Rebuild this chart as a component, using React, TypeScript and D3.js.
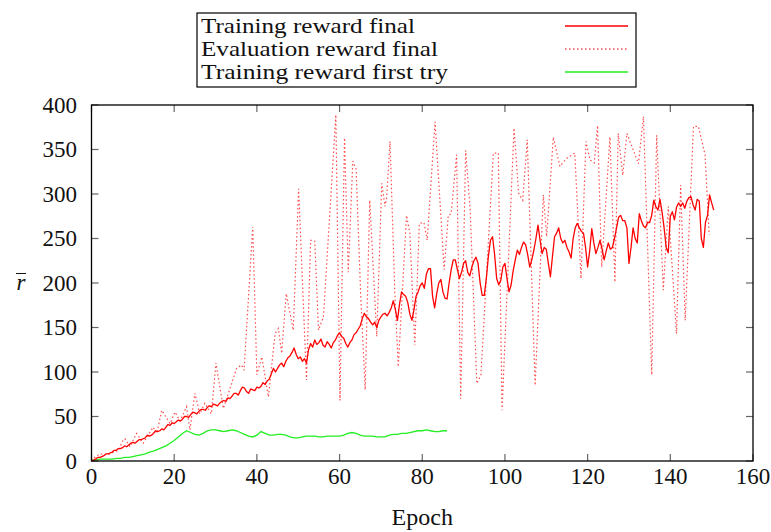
import React from "react";
import * as d3 from "d3";

// ---- Data ----
const TRAIN_FINAL_STEP = 0.5;
const trainFinal: number[] = [
  0, 1, 2, 4, 4, 5, 6, 8, 8, 9, 10, 12, 12, 14, 14, 15, 17, 16, 18, 20,
  21, 20, 22, 24, 24, 25, 26, 29, 28, 29, 31, 34, 33, 34, 36, 35, 38, 41, 40, 43,
  42, 44, 46, 45, 47, 50, 50, 49, 52, 55, 54, 53, 56, 58, 58, 57, 60, 62, 61, 64,
  63, 62, 65, 67, 68, 67, 71, 70, 73, 76, 76, 74, 79, 83, 82, 78, 76, 81, 80, 79,
  83, 82, 84, 88, 86, 90, 92, 98, 104, 100, 104, 108, 110, 106, 112, 116, 118, 122, 127, 120,
  115, 117, 112, 115, 110, 125, 132, 128, 136, 131, 133, 137, 130, 128, 134, 131, 127, 133, 136, 141,
  144, 140, 138, 132, 128, 133, 136, 142, 144, 148, 152, 160, 166, 162, 160, 156, 153, 156, 150, 158,
  162, 165, 166, 163, 167, 172, 180, 170, 158, 176, 190, 187, 185, 178, 165, 158, 170, 185, 190, 197,
  200, 194, 210, 216, 216, 185, 172, 188, 200, 204, 190, 183, 182, 200, 215, 226, 226, 215, 205, 212,
  222, 225, 212, 208, 218, 225, 229, 222, 200, 186, 186, 205, 230, 248, 252, 232, 205, 198, 203, 218,
  222, 205, 190, 198, 214, 226, 237, 232, 240, 246, 243, 232, 218, 226, 237, 250, 265, 248, 233, 240,
  238, 222, 207, 230, 252, 256, 262, 250, 245, 248, 240, 235, 228, 250, 262, 267, 262, 258, 256, 240,
  218, 236, 261, 245, 233, 240, 248, 238, 226, 236, 245, 238, 240, 250, 262, 274, 276, 270, 270, 262,
  222, 240, 262, 250, 245, 278, 270, 264, 262, 268, 268, 276, 293, 286, 282, 294, 280, 262, 240, 234,
  275, 280, 271, 285, 290, 286, 290, 284, 292, 296, 297, 288, 282, 294, 292, 250, 240, 268, 276, 299,
  290, 282,
];

const evalEpochs: number[] = [
  0, 0.5, 2, 4, 5.3, 6.5, 7.7, 8.1, 9.3, 10.9, 12.5, 14.9, 15.8, 17, 19, 20.2, 21.4, 23, 23.8, 25,
  26.2, 27.4, 29, 30.1, 31.9, 35.1, 36.3, 36.9, 39, 40, 41.2, 42.8, 44.4, 45.2, 46, 47.1, 48.8, 50.1, 52, 53,
  54, 54.9, 56.1, 59.1, 60.1, 61.2, 62.1, 63.2, 64, 65.1, 66.2, 67.3, 69, 70.2, 71, 71.4, 72.2, 73.4, 74.2, 76.2,
  77, 78.2, 79.3, 80.4, 81.2, 83.1, 85.3, 86.3, 87, 88.3, 89.3, 90.5, 91.6, 93.2, 94.2, 97.2, 98.4, 99.3, 102.2, 103.3,
  104.3, 105.4, 107.3, 109.3, 110.1, 111.7, 113.3, 114.9, 116.9, 118.4, 119.6, 120.6, 121.6, 122.4, 123.4, 125.4, 126.6, 127.4, 128.5, 129.5,
  132.3, 133.5, 135.5, 136.7, 138.3, 139.5, 141.5, 142.5, 143.6, 145.6, 146.8, 148.4, 149.4,
];
const evalValues: number[] = [
  0, 3, 8, 7, 10, 12, 24, 25, 16, 31, 20, 38, 31, 57, 42, 55, 45, 61, 35, 76,
  53, 65, 53, 110, 59, 104, 108, 102, 263, 97, 117, 72, 143, 149, 121, 188, 147, 306, 91, 248,
  247, 147, 162, 389, 68, 363, 212, 337, 328, 188, 80, 293, 140, 312, 286, 296, 359, 185, 106, 276,
  256, 130, 267, 268, 248, 381, 215, 276, 278, 344, 70, 349, 282, 87, 97, 346, 346, 57, 374, 301,
  293, 361, 85, 299, 252, 364, 331, 340, 346, 205, 359, 338, 335, 377, 218, 364, 201, 368, 321, 368,
  334, 387, 97, 366, 192, 286, 143, 310, 158, 376, 376, 344, 254,
];

const firstTry: number[] = [
  1, 1, 2, 2, 2, 2, 3, 3, 4, 4, 5, 6, 7, 8, 10, 11, 13, 15, 17, 20,
  23, 27, 31, 34, 32, 30, 29, 31, 34, 35, 35, 34, 33, 34, 35, 34, 32, 30, 28, 27,
  29, 33, 31, 29, 29, 30, 30, 29, 27, 26, 26, 27, 28, 28, 28, 27, 27, 28, 28, 28,
  28, 29, 31, 32, 31, 29, 28, 28, 28, 27, 27, 27, 29, 30, 30, 31, 31, 32, 33, 34,
  34, 35, 34, 33, 33, 34, 34,
];

const xTicks = [0, 20, 40, 60, 80, 100, 120, 140, 160];
const yTicks = [0, 50, 100, 150, 200, 250, 300, 350, 400];
const legendLabels = ["Training reward final", "Evaluation reward final", "Training reward first try"];
const xLabel = "Epoch";

const W = 771;
const H = 532;
const M = { left: 91.5, right: 753, top: 105, bottom: 461 };
const FONT = "'Liberation Serif', 'Times New Roman', serif";

export default function App() {
  const x = d3.scaleLinear().domain([0, 160]).range([M.left, M.right]);
  const y = d3.scaleLinear().domain([0, 400]).range([M.bottom, M.top]);

  const line = d3
    .line<[number, number]>()
    .x((d) => x(d[0]))
    .y((d) => y(d[1]));

  const trainPts: [number, number][] = trainFinal.map((v, i) => [i * TRAIN_FINAL_STEP, v]);
  const evalPts: [number, number][] = evalValues.map((v, i) => [evalEpochs[i], v]);
  const firstPts: [number, number][] = firstTry.map((v, i) => [i, v]);

  const red = "#ff0000";
  const green = "#22ee22";
  const tickLen = 7;
  const tickColor = "#666";

  const legend = { x0: 197, y0: 13, x1: 636, y1: 87 };
  const rows = [26, 49, 72];
  const legendWidths = [214, 237, 247];

  return (
    <svg
      width={W}
      height={H}
      style={{ position: "absolute", left: 0, top: 0, background: "#fff" }}
      fontFamily={FONT}
    >
      <rect x={0} y={0} width={W} height={H} fill="#fff" />
      {/* ticks */}
      {xTicks.map((t) => (
        <g key={"xt" + t}>
          <line x1={x(t)} x2={x(t)} y1={M.bottom} y2={M.bottom - tickLen} stroke={tickColor} strokeWidth={1.2} />
          <line x1={x(t)} x2={x(t)} y1={M.top} y2={M.top + tickLen} stroke={tickColor} strokeWidth={1.2} />
          <text x={x(t)} y={M.bottom + 23} textAnchor="middle" fontSize={23} fill="#111">
            {t}
          </text>
        </g>
      ))}
      {yTicks.map((t) => (
        <g key={"yt" + t}>
          <line x1={M.left} x2={M.left + tickLen} y1={y(t)} y2={y(t)} stroke={tickColor} strokeWidth={1.2} />
          <line x1={M.right} x2={M.right - tickLen} y1={y(t)} y2={y(t)} stroke={tickColor} strokeWidth={1.2} />
          <text x={77} y={y(t) + 7.5} textAnchor="end" fontSize={23} fill="#111">
            {t}
          </text>
        </g>
      ))}

      {/* series */}
      <path d={line(firstPts) || ""} fill="none" stroke={green} strokeWidth={1.3} />
      <path
        d={line(evalPts) || ""}
        fill="none"
        stroke={red}
        strokeOpacity={0.7}
        strokeWidth={1.2}
        strokeDasharray="1.5,2.5"
      />
      <path d={line(trainPts) || ""} fill="none" stroke={red} strokeWidth={1.3} strokeLinejoin="round" />

      {/* frame */}
      <rect
        x={M.left}
        y={M.top}
        width={M.right - M.left}
        height={M.bottom - M.top}
        fill="none"
        stroke="#000"
        strokeWidth={1.3}
      />

      {/* axis labels */}
      <text x={(M.left + M.right) / 2} y={525} textAnchor="middle" fontSize={24} fill="#111">
        {xLabel}
      </text>
      <g>
        <text x={21} y={290} textAnchor="middle" fontSize={23} fontStyle="italic" fill="#111">
          r
        </text>
        <line x1={16} x2={26} y1={273.5} y2={273.5} stroke="#111" strokeWidth={1} />
      </g>

      {/* legend */}
      <rect
        x={legend.x0}
        y={legend.y0}
        width={legend.x1 - legend.x0}
        height={legend.y1 - legend.y0}
        fill="#fff"
        stroke="#000"
        strokeWidth={1.2}
      />
      {legendLabels.map((lab, i) => (
        <g key={lab}>
          <text
            x={201}
            y={rows[i] + 7}
            fontSize={22}
            fill="#111"
            textLength={legendWidths[i]}
            lengthAdjust="spacingAndGlyphs"
          >
            {lab}
          </text>
          <line
            x1={565}
            x2={628}
            y1={rows[i]}
            y2={rows[i]}
            stroke={i === 2 ? green : red}
            strokeWidth={1.3}
            strokeOpacity={i === 1 ? 0.7 : 1}
            strokeDasharray={i === 1 ? "1.5,2.5" : undefined}
          />
        </g>
      ))}
    </svg>
  );
}
